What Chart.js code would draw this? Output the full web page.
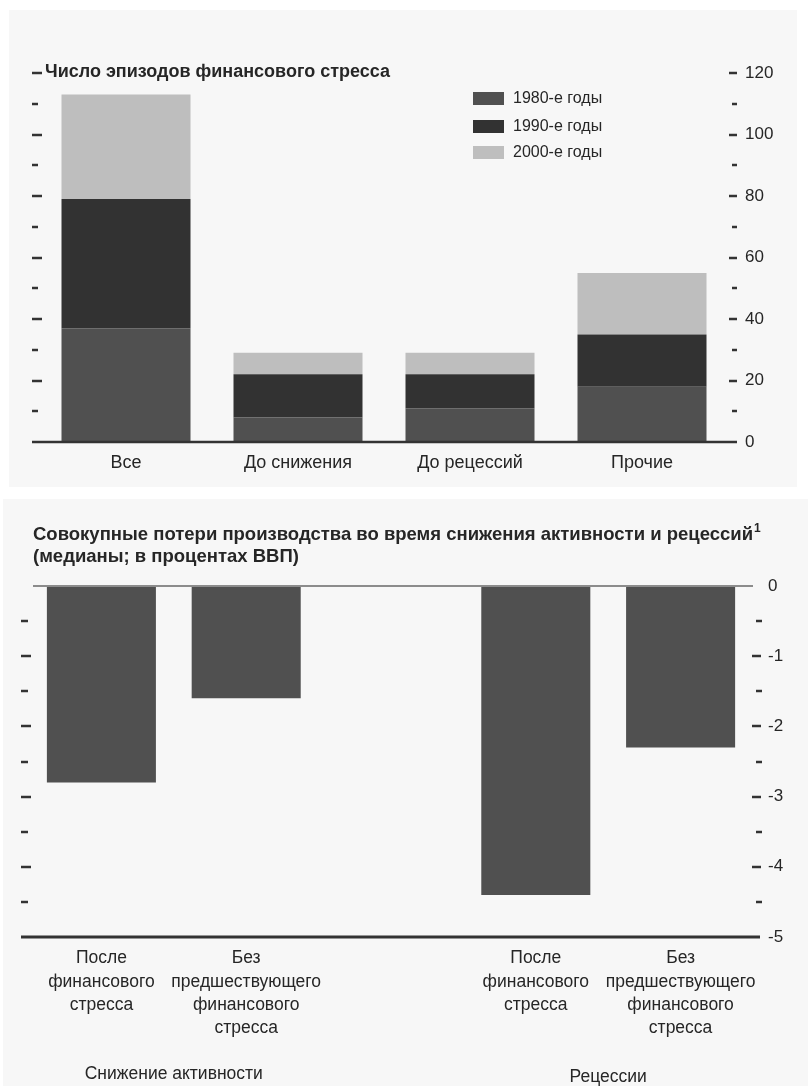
<!DOCTYPE html>
<html><head><meta charset="utf-8">
<script src="https://cdn.jsdelivr.net/npm/chart.js@4.4.1/dist/chart.umd.min.js"></script>
<style>
html,body{margin:0;padding:0;background:#fff;width:808px;height:1086px;overflow:hidden}
#p1{position:absolute;left:9px;top:10px;width:788px;height:477px;background:#f7f7f7}
#p2{position:absolute;left:3px;top:499px;width:805px;height:587px;background:#f7f7f7}
#c1{position:absolute;left:0;top:0}
#c2{position:absolute;left:0;top:490px}
</style></head><body>
<div id="p1"></div><div id="p2"></div>
<canvas id="c1" width="808" height="490"></canvas>
<canvas id="c2" width="808" height="596"></canvas>
<script>
const FONT = "'Liberation Sans', Arial, sans-serif";
const INK = '#262626';

// ---- Top chart data ----
const episodeCategories = ['Все', 'До снижения', 'До рецессий', 'Прочие'];
const episodes1980s = [37, 8, 11, 18];
const episodes1990s = [42, 14, 11, 17];
const episodes2000s = [34, 7, 7, 20];
const decadeLabels = ['1980-е годы', '1990-е годы', '2000-е годы'];
const topTitle = 'Число эпизодов финансового стресса';

// ---- Bottom chart data ----
const lossCategories = [
  ['После', 'финансового', 'стресса'],
  ['Без', 'предшествующего', 'финансового', 'стресса'],
  '',
  ['После', 'финансового', 'стресса'],
  ['Без', 'предшествующего', 'финансового', 'стресса']
];
const lossValues = [-2.8, -1.6, null, -4.4, -2.3];
const lossGroups = ['Снижение активности', 'Рецессии'];
const bottomTitle1 = 'Совокупные потери производства во время снижения активности и рецессий';
const bottomTitle2 = '(медианы; в процентах ВВП)';

const decadeColors = ['#505050', '#323232', '#bebebe'];

function hline(ctx, x1, x2, y, w, c) {
  ctx.save(); ctx.strokeStyle = c; ctx.lineWidth = w;
  ctx.beginPath(); ctx.moveTo(x1, y); ctx.lineTo(x2, y); ctx.stroke(); ctx.restore();
}

const topDecor = {
  id: 'topDecor',
  afterDraw(chart) {
    const ctx = chart.ctx, y = chart.scales.y;
    hline(ctx, 32, 737, y.getPixelForValue(0), 2.5, '#333');
    for (let v = 10; v <= 120; v += 10) {
      const yy = Math.round(y.getPixelForValue(v));
      const major = v % 20 === 0;
      hline(ctx, 32, major ? 42 : 38, yy, 2.5, '#333');
      hline(ctx, major ? 729 : 732, 737, yy, 2.5, '#333');
    }
    ctx.save();
    ctx.fillStyle = INK; ctx.textBaseline = 'middle';
    ctx.font = 'bold 18px ' + FONT;
    ctx.fillText(topTitle, 45, 72);
    ctx.font = '16px ' + FONT;
    const rows = [98.5, 126.5, 152.5];
    chart.data.datasets.forEach((ds, i) => {
      ctx.fillStyle = ds.backgroundColor;
      ctx.fillRect(473, rows[i] - 6.5, 31, 13);
      ctx.fillStyle = INK;
      ctx.fillText(ds.label, 513, rows[i]);
    });
    ctx.restore();
  }
};

new Chart(document.getElementById('c1'), {
  type: 'bar',
  data: {
    labels: episodeCategories,
    datasets: [
      { label: decadeLabels[0], data: episodes1980s, backgroundColor: decadeColors[0] },
      { label: decadeLabels[1], data: episodes1990s, backgroundColor: decadeColors[1] },
      { label: decadeLabels[2], data: episodes2000s, backgroundColor: decadeColors[2] }
    ]
  },
  options: {
    responsive: false, animation: false,
    layout: { padding: { left: 40, top: 73, right: 0, bottom: 0 } },
    plugins: { legend: { display: false }, tooltip: { enabled: false } },
    datasets: { bar: { categoryPercentage: 1, barPercentage: 0.75 } },
    scales: {
      x: { stacked: true, grid: { display: false, drawTicks: false }, border: { display: false },
           ticks: { color: INK, font: { family: FONT, size: 18 }, padding: 10 },
           afterFit: s => { s.height = 48; } },
      y: { stacked: true, min: 0, max: 120, display: false },
      y2: { position: 'right', min: 0, max: 120, grid: { display: false, drawTicks: false }, border: { display: false },
            ticks: { stepSize: 20, color: INK, font: { family: FONT, size: 17 }, padding: 17 },
            afterFit: s => { s.width = 80; } }
    }
  },
  plugins: [topDecor]
});

const bottomDecor = {
  id: 'bottomDecor',
  afterDraw(chart) {
    const ctx = chart.ctx, y = chart.scales.y, x = chart.scales.x;
    hline(ctx, 33, 753, y.getPixelForValue(0), 2, '#8c8c8c');
    hline(ctx, 21, 760, y.getPixelForValue(-5), 3, '#333');
    for (let k = 1; k <= 9; k++) {
      const v = -k / 2;
      const yy = Math.round(y.getPixelForValue(v));
      const major = k % 2 === 0;
      hline(ctx, 21, major ? 31 : 28, yy, 2.5, '#333');
      hline(ctx, major ? 752 : 756, major ? 761 : 762, yy, 2.5, '#333');
    }
    ctx.save();
    ctx.fillStyle = INK; ctx.textBaseline = 'middle';
    ctx.font = 'bold 18.5px ' + FONT;
    ctx.fillText(bottomTitle1, 33, 45);
    const w = ctx.measureText(bottomTitle1).width;
    ctx.fillText(bottomTitle2, 33, 67);
    ctx.font = 'bold 12px ' + FONT;
    ctx.fillText('1', 33 + w + 1, 39);
    ctx.font = '17.5px ' + FONT;
    ctx.textAlign = 'center';
    const g1 = (x.getPixelForValue(0) + x.getPixelForValue(1)) / 2;
    const g2 = (x.getPixelForValue(3) + x.getPixelForValue(4)) / 2;
    ctx.fillText(lossGroups[0], g1, 584);
    ctx.fillText(lossGroups[1], g2, 587);
    ctx.restore();
  }
};

new Chart(document.getElementById('c2'), {
  type: 'bar',
  data: {
    labels: lossCategories,
    datasets: [{ label: 'loss', data: lossValues, backgroundColor: '#505050' }]
  },
  options: {
    responsive: false, animation: false,
    layout: { padding: { left: 29, top: 96, right: 0, bottom: 0 } },
    plugins: { legend: { display: false }, tooltip: { enabled: false } },
    datasets: { bar: { categoryPercentage: 1, barPercentage: 0.753 } },
    scales: {
      x: { grid: { display: false, drawTicks: false }, border: { display: false },
           ticks: { color: INK, font: { family: FONT, size: 17.5, lineHeight: 1.33 }, padding: 10, maxRotation: 0, autoSkip: false },
           afterFit: s => { s.height = 149; } },
      y: { min: -5, max: 0, display: false },
      y2: { position: 'right', min: -5, max: 0, grid: { display: false, drawTicks: false }, border: { display: false },
            ticks: { stepSize: 1, color: INK, font: { family: FONT, size: 17 }, padding: 15 },
            afterFit: s => { s.width = 55; } }
    }
  },
  plugins: [bottomDecor]
});
</script>
</body></html>
